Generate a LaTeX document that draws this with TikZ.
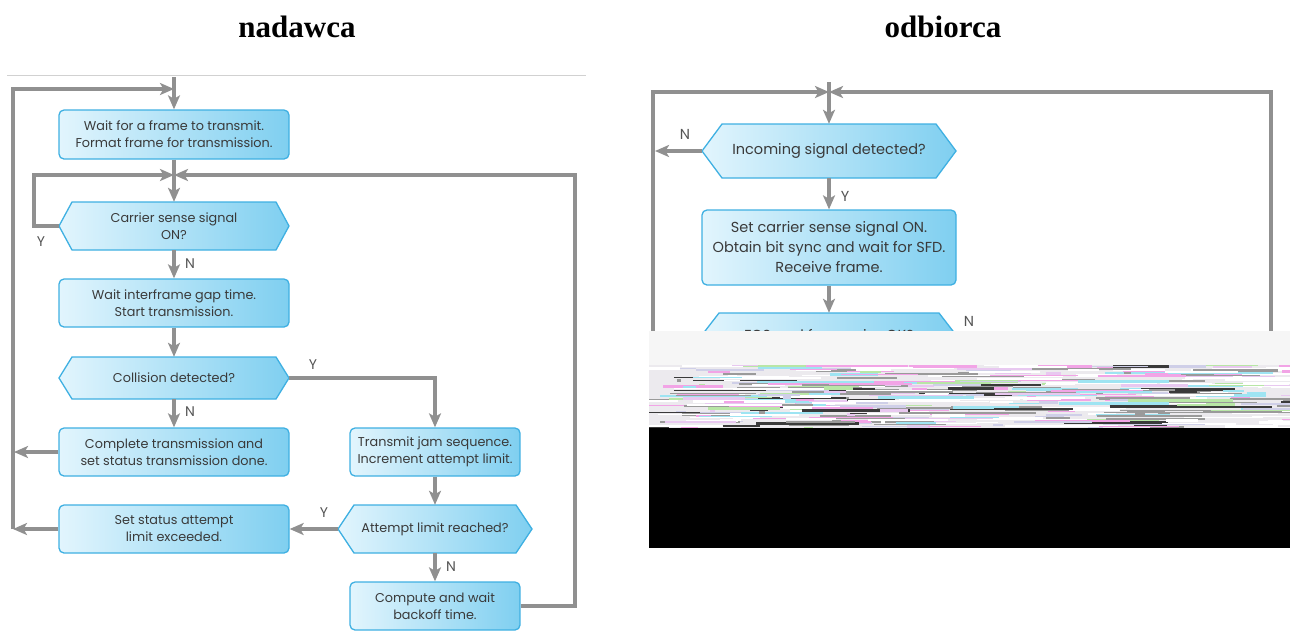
\documentclass[tikz,border=0pt]{standalone}
\usepackage{fontspec}
\setmainfont{Poppins}
\newfontfamily\titlefont{Liberation Serif}
\usetikzlibrary{arrows.meta}
\definecolor{lnc}{HTML}{909090}
\definecolor{bxline}{HTML}{3FB0E2}
\definecolor{bxL}{HTML}{E2F5FD}
\definecolor{bxR}{HTML}{7FCFF0}
\definecolor{txt}{HTML}{3A3A3A}
\definecolor{lblc}{HTML}{555555}
\definecolor{bandc}{HTML}{F6F6F6}
\definecolor{nzbase}{HTML}{ECEAEE}
\definecolor{nzA}{HTML}{F2A4E6}
\definecolor{nzB}{HTML}{9EE4F2}
\definecolor{nzC}{HTML}{B8E6A6}
\definecolor{nzD}{HTML}{9A9A9A}
\definecolor{nzE}{HTML}{3A3A3A}
\definecolor{nzF}{HTML}{FFFFFF}
\definecolor{nzG}{HTML}{CFCFE8}
\definecolor{nzH}{HTML}{E8C8F0}
\newcommand\lftfont{\fontsize{12.8}{17}\selectfont}
\newcommand\rgtfont{\fontsize{14.5}{20}\selectfont}
\newcommand\lblfont{\fontsize{14}{14}\selectfont}
\newcommand\hexnode[8]{%
  \path[hexst] ({#2-#4},#3) -- ({#2-#4+#6},{#3-#5}) -- ({#2+#4-#6},{#3-#5}) -- ({#2+#4},#3) -- ({#2+#4-#6},{#3+#5}) -- ({#2-#4+#6},{#3+#5}) -- cycle;
  \node[#7, minimum width={2*#4 pt}, minimum height={2*#5 pt}] (#1) at (#2,#3) {#8};
}
\begin{document}
\begin{tikzpicture}[x=1pt,y=-1pt,
  box/.style={draw=bxline, line width=1.3pt, rounded corners=5pt, left color=bxL, right color=bxR, align=center, inner sep=0pt, text=txt},
  hexst/.style={draw=bxline, line width=1.3pt, left color=bxL, right color=bxR},
  hexl/.style={align=center, inner sep=0pt, text=txt, font=\lftfont},
  hexr/.style={align=center, inner sep=0pt, text=txt, font=\rgtfont},
  arr/.style={draw=lnc, line width=3.8pt, -{Stealth[length=14pt,width=12pt,inset=3.5pt]}},
  lnst/.style={draw=lnc, line width=3.8pt},
  lbl/.style={text=lblc, inner sep=0pt, font=\lblfont},
  lblr/.style={text=lblc, inner sep=0pt, font=\rgtfont},
  ttl/.style={inner sep=0pt, font=\titlefont\bfseries\fontsize{31}{31}\selectfont}]
\useasboundingbox (0,0) rectangle (1290,630);
\fill[white] (0,0) rectangle (1290,630);

% titles
\node[ttl] (t1) at (297,27) {nadawca};
\node[ttl] (t2) at (943,27) {odbiorca};

% left panel top rule
\draw[black!18, line width=0.8pt] (7,75) -- (586,75);

% ===== left flowchart =====
\node[box, font=\lftfont, minimum width=230pt, minimum height=49pt] (b1) at (174,134.5) {Wait for a frame to transmit.\\Format frame for transmission.};
\hexnode{d1}{174}{226}{115}{24}{13}{hexl}{Carrier sense signal\\ON?}
\node[box, font=\lftfont, minimum width=230pt, minimum height=48pt] (b2) at (174,303) {Wait interframe gap time.\\Start transmission.};
\hexnode{d2}{174}{378}{115}{21}{13}{hexl}{Collision detected?}
\node[box, font=\lftfont, minimum width=230pt, minimum height=48pt] (b3) at (174,452) {Complete transmission and\\set status transmission done.};
\node[box, font=\lftfont, minimum width=170pt, minimum height=48pt] (b4) at (435,452) {Transmit jam sequence.\\Increment attempt limit.};
\hexnode{d3}{435}{529}{97}{24}{16}{hexl}{Attempt limit reached?}
\node[box, font=\lftfont, minimum width=230pt, minimum height=48pt] (b5) at (174,529) {Set status attempt\\limit exceeded.};
\node[box, font=\lftfont, minimum width=170pt, minimum height=48pt] (b6) at (435,606) {Compute and wait\\backoff time.};

\coordinate (T0) at (174,77);
\coordinate (J0) at (174,89);
\coordinate (J1) at (174,175);
\coordinate (L3) at (14,452);
\coordinate (L5) at (13,529);

\draw[arr] (T0) -- (b1.north);
\draw[arr] (L5) -- (13,89) -- (J0);
\draw[lnst] (b1.south) -- (J1);
\draw[arr] (J1) -- (d1.north);
\draw[arr] (d1.west) -- (34,226) -- (34,175) -- (J1);
\draw[arr] (b6.east) -- (575,606) -- (575,175) -- (J1);
\draw[arr] (d1.south) -- (b2.north);
\draw[arr] (b2.south) -- (d2.north);
\draw[arr] (d2.east) -| (b4.north);
\draw[arr] (d2.south) -- (b3.north);
\draw[arr] (b3.west) -- (L3);
\draw[arr] (b4.south) -- (d3.north);
\draw[arr] (d3.west) -- (b5.east);
\draw[arr] (b5.west) -- (L5);
\draw[arr] (d3.south) -- (b6.north);

\node[lbl] (y1) at (41,242) {Y};
\node[lbl] (n1) at (190,264) {N};
\node[lbl] (y2) at (313,365) {Y};
\node[lbl] (n2) at (190,412) {N};
\node[lbl] (y3) at (324,513) {Y};
\node[lbl] (n3) at (451,567) {N};

% ===== right flowchart =====
\hexnode{d4}{829}{151}{127}{27}{20}{hexr}{Incoming signal detected?}
\node[box, font=\rgtfont, minimum width=254pt, minimum height=75pt] (b7) at (829,247.5) {Set carrier sense signal ON.\\Obtain bit sync and wait for SFD.\\Receive frame.};
\hexnode{d5}{829}{335}{127}{22}{17}{hexr}{FCS and frame size OK?}

\coordinate (T1) at (829,82);
\coordinate (J2) at (829,92);
\coordinate (C1) at (653,335);
\coordinate (C2) at (1271,335);
\coordinate (L7) at (655,151);

\draw[arr] (T1) -- (d4.north);
\draw[arr] (C1) -- (653,92) -- (J2);
\draw[arr] (C2) -- (1271,92) -- (J2);
\draw[arr] (d4.west) -- (L7);
\draw[arr] (d4.south) -- (b7.north);
\draw[arr] (b7.south) -- (d5.north);

\node[lblr] (n4) at (685,134) {N};
\node[lblr] (y4) at (845,196) {Y};
\node[lblr] (n5) at (969,321) {N};

% ===== damaged area =====
\fill[bandc] (649,331) rectangle (1290,365);
\begin{scope}
  \clip (649,365) rectangle (1290,428);
  \fill[nzbase] (649,365) rectangle (1290,428);
  \pgfmathsetseed{7}
  \pgfmathdeclarerandomlist{noisecol}{{nzA}{nzB}{nzC}{nzD}{nzE}{nzF}{nzG}{nzH}{nzF}{nzD}{nzF}}
  \foreach \i in {1,...,420}{
    \pgfmathsetmacro\ny{365+63*rnd}
    \pgfmathsetmacro\nx{630+660*rnd}
    \pgfmathsetmacro\nl{4+110*rnd}
    \pgfmathsetmacro\nw{0.7+2.2*rnd}
    \pgfmathrandomitem\nc{noisecol}
    \draw[draw=\nc, line width=\nw pt] (\nx,\ny) -- ++(\nl,0);
  }
\end{scope}
\fill[black] (649,428) rectangle (1290,548);
\end{tikzpicture}
\end{document}
